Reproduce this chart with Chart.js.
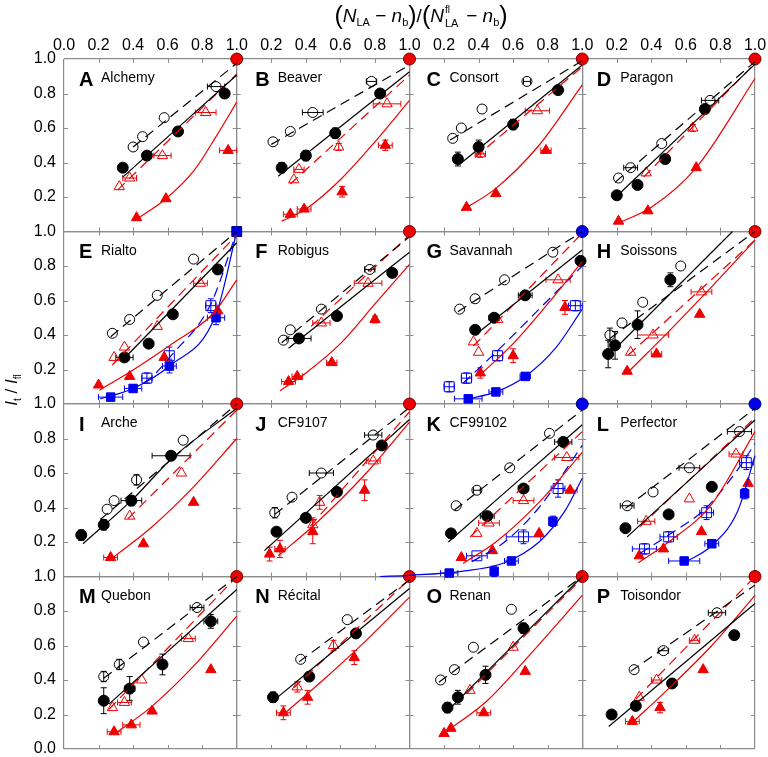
<!DOCTYPE html>
<html>
<head>
<meta charset="utf-8">
<script src="https://cdn.jsdelivr.net/npm/chart.js@4.4.1/dist/chart.umd.min.js"></script>
<style>
html, body { margin: 0; padding: 0; background: #fff; }
#wrap { position: relative; width: 768px; height: 757px; font-family: Arial, "Liberation Sans", sans-serif; color: #000; }
#chart { position: absolute; left: 0; top: 0; }
.letter { position: absolute; font-size: 20px; font-weight: bold; line-height: 1; white-space: nowrap; }
.name { position: absolute; font-size: 14px; line-height: 1; white-space: nowrap; }
#xtitle { position: absolute; left: 421px; top: 15px; transform: translate(-50%, -50%); font-size: 19px; white-space: nowrap; line-height: 1; }
#xtitle .p { font-size: 25px; font-weight: 300; vertical-align: -2px; }
#xtitle sub { font-size: 11px; vertical-align: -4px; }
#xtitle .ss { display: inline-block; position: relative; width: 17px; height: 14px; }
#xtitle .ss .a { position: absolute; left: 1px; top: -3px; font-size: 10px; }
#xtitle .ss .b { position: absolute; left: 1px; top: 10px; font-size: 11px; }
#ytitle { position: absolute; left: 13px; top: 390px; transform: translate(-50%, -50%) rotate(-90deg); font-size: 17px; white-space: nowrap; line-height: 1; }
#ytitle sub { font-size: 10px; }
</style>
</head>
<body>
<div id="wrap">
  <canvas id="chart" width="768" height="757"></canvas>
  <div id="xtitle"><span class="p">(</span><i>N</i><sub>LA</sub> − <i>n</i><sub>b</sub><span class="p">)</span>/<span class="p">(</span><i>N</i><span class="ss"><span class="a">fl</span><span class="b">LA</span></span> − <i>n</i><sub>b</sub><span class="p">)</span></div>
  <div id="ytitle"><i>I</i><sub>t</sub> / <i>I</i><sub>fl</sub></div>
</div>
<script>
// 面板与刻度
const panelLetters = ['A', 'B', 'C', 'D', 'E', 'F', 'G', 'H', 'I', 'J', 'K', 'L', 'M', 'N', 'O', 'P'];
const panelNames = ['Alchemy', 'Beaver', 'Consort', 'Paragon', 'Rialto', 'Robigus', 'Savannah', 'Soissons',
    'Arche', 'CF9107', 'CF99102', 'Perfector', 'Quebon', 'Récital', 'Renan', 'Toisondor'];
const topTickValues = [0, 0.2, 0.4, 0.6, 0.8, 1.0];
const leftTickValues = [0, 0.2, 0.4, 0.6, 0.8, 1.0];
const minorTicks = [0.2, 0.4, 0.6, 0.8];

// 数据点 [x, y, x误差, y误差]，按面板 A..P
const openCircles = [
    [[0.40, 0.49], [0.455, 0.55], [0.58, 0.66], [0.88, 0.84, 0.05]],
    [[0.21, 0.52], [0.31, 0.58], [0.44, 0.69, 0.06], [0.78, 0.87, 0.03]],
    [[0.25, 0.54], [0.30, 0.60], [0.42, 0.71], [0.68, 0.87, 0.02]],
    [[0.21, 0.31], [0.28, 0.37, 0.04], [0.46, 0.51], [0.74, 0.76, 0.05]],
    [[0.28, 0.41], [0.38, 0.49], [0.54, 0.63], [0.75, 0.84]],
    [[0.27, 0.37], [0.31, 0.43], [0.49, 0.55], [0.77, 0.78, 0.03]],
    [[0.29, 0.55], [0.38, 0.61], [0.55, 0.72], [0.83, 0.88]],
    [[0.16, 0.40, 0, 0.04], [0.23, 0.47], [0.35, 0.59], [0.57, 0.80]],
    [[0.25, 0.39], [0.29, 0.44], [0.42, 0.56, 0, 0.03], [0.69, 0.79]],
    [[0.22, 0.37, 0, 0.03], [0.32, 0.46], [0.49, 0.60, 0.07], [0.79, 0.82, 0.05]],
    [[0.27, 0.41], [0.39, 0.50, 0.02], [0.58, 0.63], [0.81, 0.83]],
    [[0.26, 0.41, 0.04], [0.41, 0.49], [0.62, 0.63, 0.06], [0.91, 0.84, 0.07]],
    [[0.23, 0.42, 0, 0.03], [0.32, 0.49, 0, 0.03], [0.46, 0.62], [0.77, 0.82, 0.04]],
    [[0.37, 0.52], [0.64, 0.75]],
    [[0.18, 0.40], [0.26, 0.46], [0.37, 0.59], [0.59, 0.81]],
    [[0.30, 0.46], [0.47, 0.57, 0.03], [0.78, 0.79, 0.05]]
];
const filledCircles = [
    [[0.34, 0.37], [0.48, 0.44], [0.66, 0.58], [0.93, 0.80]],
    [[0.26, 0.37, 0, 0.03], [0.40, 0.44, 0, 0.03], [0.57, 0.57, 0, 0.03], [0.83, 0.80]],
    [[0.28, 0.42, 0, 0.04], [0.40, 0.49, 0, 0.04], [0.60, 0.62, 0, 0.03], [0.86, 0.82]],
    [[0.20, 0.21], [0.32, 0.27], [0.48, 0.42], [0.71, 0.71]],
    [[0.35, 0.27, 0.05], [0.49, 0.35], [0.63, 0.52], [0.89, 0.78]],
    [[0.36, 0.38, 0.07], [0.58, 0.51], [0.90, 0.76]],
    [[0.38, 0.43], [0.49, 0.50, 0.03], [0.67, 0.63, 0.04], [0.99, 0.83]],
    [[0.15, 0.29, 0, 0.08], [0.19, 0.34, 0, 0.08], [0.32, 0.46, 0, 0.08], [0.51, 0.72, 0, 0.04]],
    [[0.10, 0.24, 0, 0.03], [0.23, 0.30, 0, 0.03], [0.39, 0.44, 0.06, 0.03], [0.62, 0.70, 0.11]],
    [[0.23, 0.26], [0.40, 0.34], [0.58, 0.49], [0.84, 0.76]],
    [[0.24, 0.25], [0.45, 0.35, 0.04], [0.66, 0.51, 0.03], [0.89, 0.78, 0.05]],
    [[0.25, 0.28], [0.50, 0.36], [0.75, 0.52]],
    [[0.23, 0.28, 0, 0.075], [0.38, 0.35, 0.03, 0.07], [0.57, 0.49, 0, 0.06], [0.85, 0.74, 0.04, 0.04]],
    [[0.21, 0.30, 0, 0.03], [0.42, 0.42], [0.69, 0.67]],
    [[0.22, 0.24, 0, 0.03], [0.28, 0.30, 0, 0.04], [0.44, 0.43, 0, 0.05], [0.66, 0.70, 0, 0.03]],
    [[0.17, 0.20], [0.31, 0.25], [0.52, 0.38], [0.88, 0.66]]
];
const openTriangles = [
    [[0.32, 0.26], [0.38, 0.31, 0.04], [0.57, 0.44, 0.05], [0.82, 0.69, 0.06]],
    [[0.33, 0.30], [0.36, 0.36, 0.03], [0.59, 0.49, 0, 0.02], [0.87, 0.74, 0.08]],
    [[0.41, 0.45, 0.03, 0.02], [0.74, 0.70, 0.07]],
    [[0.37, 0.34], [0.64, 0.60, 0, 0.02]],
    [[0.29, 0.27], [0.35, 0.33], [0.54, 0.45], [0.79, 0.70, 0.04]],
    [[0.49, 0.47, 0.05], [0.76, 0.70, 0.08]],
    [[0.37, 0.36], [0.40, 0.30], [0.51, 0.49], [0.86, 0.72, 0.07]],
    [[0.28, 0.30], [0.41, 0.40, 0.09], [0.69, 0.65, 0.06]],
    [[0.38, 0.35], [0.68, 0.60]],
    [[0.44, 0.30, 0, 0.04], [0.48, 0.43, 0, 0.04], [0.79, 0.67, 0.04]],
    [[0.39, 0.25], [0.46, 0.31, 0.06], [0.66, 0.44, 0.06], [0.91, 0.69, 0.07]],
    [[0.37, 0.32, 0.05], [0.62, 0.45], [0.89, 0.71, 0.04]],
    [[0.28, 0.24], [0.35, 0.27, 0.04], [0.45, 0.40], [0.72, 0.64, 0.04]],
    [[0.35, 0.36, 0, 0.03], [0.56, 0.60, 0, 0.03]],
    [[0.35, 0.34], [0.60, 0.59]],
    [[0.33, 0.30], [0.43, 0.40, 0.03], [0.65, 0.63, 0.03]]
];
const filledTriangles = [
    [[0.42, 0.08], [0.59, 0.19], [0.95, 0.47, 0.05]],
    [[0.31, 0.10, 0.04], [0.39, 0.13, 0.04], [0.61, 0.23, 0, 0.03], [0.86, 0.50, 0.04, 0.03]],
    [[0.33, 0.14], [0.50, 0.22], [0.79, 0.47, 0.03]],
    [[0.21, 0.06], [0.38, 0.12], [0.66, 0.37]],
    [[0.20, 0.11], [0.38, 0.16], [0.58, 0.27], [0.89, 0.54]],
    [[0.30, 0.13, 0.04], [0.35, 0.16, 0.03], [0.55, 0.24, 0.03], [0.80, 0.49, 0, 0.02]],
    [[0.41, 0.18, 0, 0.03], [0.60, 0.28, 0, 0.04], [0.90, 0.56, 0, 0.04]],
    [[0.26, 0.19], [0.43, 0.29, 0.03], [0.68, 0.52]],
    [[0.27, 0.11, 0.04], [0.46, 0.19], [0.75, 0.43]],
    [[0.19, 0.13, 0, 0.04], [0.25, 0.16, 0.03, 0.05], [0.44, 0.26, 0, 0.07], [0.74, 0.50, 0, 0.06]],
    [[0.30, 0.11], [0.48, 0.15], [0.75, 0.25], [0.93, 0.50, 0.04]],
    [[0.33, 0.12], [0.47, 0.16], [0.69, 0.26], [0.96, 0.54]],
    [[0.29, 0.10, 0.04], [0.39, 0.14, 0.05], [0.51, 0.22], [0.85, 0.46]],
    [[0.27, 0.21, 0.04, 0.04], [0.41, 0.30, 0, 0.04], [0.68, 0.53, 0, 0.04]],
    [[0.20, 0.09], [0.24, 0.12], [0.43, 0.21, 0.04], [0.67, 0.45]],
    [[0.29, 0.16, 0.04], [0.45, 0.24, 0, 0.03], [0.70, 0.46]]
];
const openSquares = [
    [], [], [], [],
    [[0.48, 0.15, 0.03, 0.03], [0.61, 0.28, 0, 0.05], [0.85, 0.57, 0.03, 0.04]],
    [],
    [[0.23, 0.10, 0.03, 0.03], [0.33, 0.15, 0.03, 0.03], [0.51, 0.28, 0.03, 0.03], [0.96, 0.57, 0.04, 0.03]],
    [], [], [],
    [[0.39, 0.12, 0.06], [0.66, 0.23, 0.10, 0.04], [0.86, 0.51, 0.04, 0.05]],
    [[0.36, 0.16, 0.07, 0.03], [0.50, 0.23, 0.05, 0.03], [0.72, 0.37, 0.04, 0.04], [0.95, 0.66, 0.04, 0.04]],
    [], [], [], []
];
const filledSquares = [
    [], [], [], [],
    [[0.27, 0.04, 0.07], [0.40, 0.09, 0.05, 0.02], [0.61, 0.22, 0.04, 0.04], [0.88, 0.50, 0.05, 0.04]],
    [],
    [[0.34, 0.03, 0.08], [0.50, 0.07, 0.04], [0.67, 0.16, 0.03, 0.02]],
    [], [], [],
    [[0.23, 0.02, 0.05], [0.49, 0.03, 0, 0.03], [0.59, 0.09, 0.04, 0.02], [0.83, 0.32, 0, 0.03]],
    [[0.59, 0.09, 0.09], [0.75, 0.19, 0.04], [0.94, 0.48, 0, 0.03]],
    [], [], [], []
];

// 拟合曲线 [x, y]
const dashedBlackFit = [
    [[0.40, 0.49], [1.0, 0.975]], [[0.20, 0.505], [1.0, 0.965]], [[0.235, 0.53], [1.0, 0.99]], [[0.19, 0.285], [1.0, 0.985]],
    [[0.27, 0.39], [1.0, 1.0]], [[0.26, 0.355], [1.0, 0.97]], [[0.28, 0.535], [1.0, 1.0]], [[0.16, 0.38], [1.0, 1.0]],
    [[0.21, 0.33], [1.0, 1.0]], [[0.22, 0.36], [1.0, 0.98]], [[0.26, 0.385], [1.0, 0.965]], [[0.25, 0.395], [1.0, 0.975]],
    [[0.23, 0.41], [1.0, 1.0]], [[0.36, 0.505], [1.0, 0.98]], [[0.17, 0.387], [1.0, 1.0]], [[0.28, 0.45], [1.0, 0.95]]
];
const solidBlackFit = [
    [[0.34, 0.315], [1.0, 0.907]], [[0.24, 0.32], [1.0, 0.926]], [[0.29, 0.39], [1.0, 0.965]], [[0.195, 0.20], [1.0, 0.97]],
    [[0.33, 0.245], [1.0, 0.935]], [[0.30, 0.323], [1.0, 0.88]], [[0.38, 0.40], [1.0, 0.893]], [[0.18, 0.31], [0.87, 1.0]],
    [[0.11, 0.19], [0.40, 0.45], [0.62, 0.68], [1.0, 0.975]], [[0.16, 0.15], [1.0, 0.91]], [[0.225, 0.20], [1.0, 0.88]], [[0.26, 0.23], [1.0, 0.907]],
    [[0.26, 0.26], [1.0, 0.925]], [[0.23, 0.295], [1.0, 0.93]], [[0.215, 0.216], [1.0, 1.0]], [[0.153, 0.13], [1.0, 0.843]]
];
const dashedRedFit = [
    [[0.31, 0.24], [1.0, 0.913]], [[0.31, 0.275], [1.0, 0.907]], [[0.38, 0.43], [1.0, 0.955]], [[0.355, 0.315], [1.0, 0.975]],
    [[0.28, 0.226], [1.0, 0.98]], [[0.43, 0.45], [1.0, 0.98]], [[0.37, 0.336], [1.0, 0.99]], [[0.267, 0.284], [1.0, 0.95]],
    [[0.37, 0.335], [1.0, 0.965]], [[0.425, 0.29], [1.0, 0.955]], [[0.35, 0.23], [1.0, 0.84]], [[0.335, 0.29], [1.0, 0.92]],
    [[0.26, 0.23], [1.0, 1.0]], [[0.33, 0.355], [1.0, 0.985]], [[0.33, 0.32], [1.0, 0.99]], [[0.31, 0.29], [1.0, 1.0]]
];
const solidRedFit = [
    [[0.42, 0.07], [0.59, 0.19], [0.75, 0.35], [0.88, 0.55], [1.0, 0.75]],
    [[0.26, 0.06], [0.40, 0.13], [0.60, 0.30], [0.80, 0.52], [1.0, 0.76]],
    [[0.30, 0.12], [0.50, 0.25], [0.75, 0.50], [1.0, 0.85]],
    [[0.21, 0.05], [0.40, 0.14], [0.66, 0.37], [1.0, 0.887]],
    [[0.205, 0.08], [0.40, 0.197], [0.63, 0.352], [0.865, 0.526], [1.0, 0.72]],
    [[0.25, 0.077], [0.40, 0.18], [0.60, 0.35], [0.80, 0.58], [1.0, 0.81]],
    [[0.41, 0.17], [0.60, 0.35], [0.80, 0.58], [1.0, 0.825]],
    [[0.26, 0.18], [0.50, 0.42], [0.75, 0.68], [1.0, 0.95]],
    [[0.27, 0.10], [0.50, 0.28], [0.75, 0.52], [1.0, 0.80]],
    [[0.24, 0.12], [0.45, 0.30], [0.75, 0.60], [1.0, 0.895]],
    [[0.31, 0.076], [0.50, 0.20], [0.75, 0.43], [1.0, 0.72]],
    [[0.325, 0.08], [0.50, 0.20], [0.75, 0.42], [1.0, 0.84]],
    [[0.295, 0.09], [0.50, 0.24], [0.75, 0.48], [1.0, 0.77]],
    [[0.27, 0.20], [0.50, 0.40], [0.75, 0.63], [1.0, 0.88]],
    [[0.225, 0.11], [0.45, 0.28], [0.70, 0.55], [1.0, 0.89]],
    [[0.286, 0.15], [0.50, 0.35], [0.75, 0.60], [1.0, 0.89]]
];
const dashedBlueFit = [
    [], [], [], [],
    [[0.38, 0.08], [0.50, 0.15], [0.62, 0.28], [0.85, 0.58], [1.0, 1.0]],
    [],
    [[0.31, 0.12], [0.50, 0.30], [0.80, 0.60], [1.0, 0.80]],
    [], [], [],
    [[0.36, 0.085], [0.55, 0.20], [0.75, 0.40], [1.0, 0.76]],
    [[0.335, 0.135], [0.50, 0.24], [0.72, 0.40], [0.90, 0.62], [1.0, 0.77]],
    [], [], [], []
];
const solidBlueFit = [
    [], [], [], [],
    [[0.21, 0.03], [0.40, 0.09], [0.61, 0.22], [0.88, 0.52], [1.0, 1.0]],
    [],
    [[0.34, 0.03], [0.50, 0.07], [0.67, 0.16], [0.85, 0.33], [1.0, 0.55]],
    [], [], [],
    [[-0.17, 0.0], [0.0, 0.007], [0.30, 0.03], [0.55, 0.08], [0.75, 0.20], [0.90, 0.38], [1.0, 0.57]],
    [[0.59, 0.08], [0.75, 0.18], [0.90, 0.38], [1.0, 0.70]],
    [], [], [], []
];
// 右上角 (1,1) 参考点
const cornerPoint = [1.0, 1.0];
const cornerKind = ['red', 'red', 'red', 'red', 'blueSquare', 'red', 'blue', 'red',
    'red', 'red', 'blue', 'blue', 'red', 'red', 'red', 'red'];

// 样式
const FONT = 'Arial, "Liberation Sans", sans-serif';
const BLACK = '#000000';
const RED = '#ee0000';
const BLUE = '#0000ee';
const GRAY = '#8c8c8c';
const DASH = [10, 6];

function toPoints(arr) {
    return arr.map(p => ({ x: p[0], y: p[1], xe: p[2] || 0, ye: p[3] || 0 }));
}

function fitDataset(points, color, dashed, xId, yId) {
    return {
        type: 'line',
        data: toPoints(points),
        xAxisID: xId, yAxisID: yId,
        borderColor: color,
        borderWidth: 1.2,
        borderDash: dashed ? DASH : [],
        pointRadius: 0,
        fill: false,
        cubicInterpolationMode: 'monotone',
        clip: false
    };
}

function markerDataset(points, style, color, filled, radius, xId, yId) {
    return {
        type: 'scatter',
        data: toPoints(points),
        xAxisID: xId, yAxisID: yId,
        pointStyle: style,
        pointRadius: radius,
        pointBorderWidth: 1,
        pointBorderColor: color,
        pointBackgroundColor: filled ? color : 'rgba(255,255,255,0)',
        borderColor: color,
        backgroundColor: filled ? color : 'rgba(255,255,255,0)',
        errorBars: true,
        errorColor: color,
        clip: false
    };
}

// 组装数据集
const datasets = [];
panelLetters.forEach((letter, p) => {
    const xId = 'x' + (p % 4);
    const yId = 'y' + Math.floor(p / 4);
    datasets.push(fitDataset(dashedBlackFit[p], BLACK, true, xId, yId));
    datasets.push(fitDataset(solidBlackFit[p], BLACK, false, xId, yId));
    datasets.push(fitDataset(dashedRedFit[p], RED, true, xId, yId));
    datasets.push(fitDataset(solidRedFit[p], RED, false, xId, yId));
    if (dashedBlueFit[p].length) datasets.push(fitDataset(dashedBlueFit[p], BLUE, true, xId, yId));
    if (solidBlueFit[p].length) datasets.push(fitDataset(solidBlueFit[p], BLUE, false, xId, yId));
    datasets.push(markerDataset(openCircles[p], 'circle', BLACK, false, 5, xId, yId));
    datasets.push(markerDataset(filledCircles[p], 'circle', BLACK, true, 5.5, xId, yId));
    datasets.push(markerDataset(openTriangles[p], 'triangle', RED, false, 6, xId, yId));
    datasets.push(markerDataset(filledTriangles[p], 'triangle', RED, true, 6, xId, yId));
    if (openSquares[p].length) datasets.push(markerDataset(openSquares[p], 'rect', BLUE, false, 7, xId, yId));
    if (filledSquares[p].length) datasets.push(markerDataset(filledSquares[p], 'rect', BLUE, true, 6, xId, yId));
    const kind = cornerKind[p];
    const cornerColor = kind === 'red' ? RED : BLUE;
    const corner = markerDataset([cornerPoint], kind === 'blueSquare' ? 'rect' : 'circle', cornerColor, true,
        kind === 'blueSquare' ? 7 : 6, xId, yId);
    corner.pointBorderColor = kind === 'red' ? '#7a0000' : '#00007a';
    datasets.push(corner);
});

// 坐标轴：4 个顶部 x 轴横向堆叠，4 个左侧 y 轴纵向堆叠
const gridColor = ctx => (ctx.tick && (ctx.tick.value === 0 || ctx.tick.value === 1)) ? GRAY : 'rgba(0,0,0,0)';
const scales = {};
for (let c = 0; c < 4; c++) {
    scales['x' + c] = {
        type: 'linear', position: 'top', stack: 'cols', stackWeight: 1, weight: 4 - c,
        min: 0, max: 1,
        afterBuildTicks: s => { s.ticks = topTickValues.map(v => ({ value: v })); },
        ticks: {
            autoSkip: false, maxRotation: 0, padding: 4, color: '#000',
            font: { size: 16, family: FONT },
            callback: v => (c > 0 && v === 0) ? '' : v.toFixed(1)
        },
        grid: { drawTicks: false, lineWidth: 1.2, color: gridColor },
        border: { display: false },
        afterFit: s => { s.height = 39; s.paddingLeft = 0; s.paddingRight = 0; }
    };
}
for (let r = 0; r < 4; r++) {
    scales['y' + r] = {
        type: 'linear', position: 'left', stack: 'rows', stackWeight: 1, weight: 4 - r,
        min: 0, max: 1,
        afterBuildTicks: s => { s.ticks = leftTickValues.map(v => ({ value: v })); },
        ticks: {
            autoSkip: false, padding: 8, color: '#000',
            font: { size: 16, family: FONT },
            callback: v => (r < 3 && v === 0) ? '' : v.toFixed(1)
        },
        grid: { drawTicks: false, lineWidth: 1.2, color: gridColor },
        border: { display: false },
        afterFit: s => { s.width = 64; s.paddingTop = 0; s.paddingBottom = 0; }
    };
}

// 面板内侧小刻度
const panelTicksPlugin = {
    id: 'panelTicks',
    beforeDatasetsDraw(chart) {
        const ctx = chart.ctx;
        ctx.save();
        ctx.strokeStyle = GRAY;
        ctx.lineWidth = 1;
        ctx.beginPath();
        for (let c = 0; c < 4; c++) {
            for (let r = 0; r < 4; r++) {
                const xs = chart.scales['x' + c];
                const ys = chart.scales['y' + r];
                minorTicks.forEach(v => {
                    const px = Math.round(xs.getPixelForValue(v)) + 0.5;
                    const py = Math.round(ys.getPixelForValue(v)) + 0.5;
                    ctx.moveTo(px, ys.top); ctx.lineTo(px, ys.top + 4);
                    ctx.moveTo(px, ys.bottom); ctx.lineTo(px, ys.bottom - 4);
                    ctx.moveTo(xs.left, py); ctx.lineTo(xs.left + 4, py);
                    ctx.moveTo(xs.right, py); ctx.lineTo(xs.right - 4, py);
                });
            }
        }
        ctx.stroke();
        ctx.restore();
    }
};

// 误差棒
const errorBarsPlugin = {
    id: 'errorBars',
    beforeDatasetsDraw(chart) {
        const ctx = chart.ctx;
        ctx.save();
        ctx.lineWidth = 1;
        chart.data.datasets.forEach((ds, i) => {
            if (!ds.errorBars) return;
            const meta = chart.getDatasetMeta(i);
            const xs = chart.scales[meta.xAxisID];
            const ys = chart.scales[meta.yAxisID];
            ctx.strokeStyle = ds.errorColor;
            ctx.beginPath();
            ds.data.forEach(p => {
                const px = xs.getPixelForValue(p.x);
                const py = ys.getPixelForValue(p.y);
                if (p.xe) {
                    const a = xs.getPixelForValue(p.x - p.xe);
                    const b = xs.getPixelForValue(p.x + p.xe);
                    ctx.moveTo(a, py); ctx.lineTo(b, py);
                    ctx.moveTo(a, py - 3); ctx.lineTo(a, py + 3);
                    ctx.moveTo(b, py - 3); ctx.lineTo(b, py + 3);
                }
                if (p.ye) {
                    const a = ys.getPixelForValue(p.y - p.ye);
                    const b = ys.getPixelForValue(p.y + p.ye);
                    ctx.moveTo(px, a); ctx.lineTo(px, b);
                    ctx.moveTo(px - 3, a); ctx.lineTo(px + 3, a);
                    ctx.moveTo(px - 3, b); ctx.lineTo(px + 3, b);
                }
            });
            ctx.stroke();
        });
        ctx.restore();
    }
};

const chart = new Chart(document.getElementById('chart'), {
    type: 'scatter',
    data: { datasets: datasets },
    options: {
        responsive: false,
        animation: false,
        devicePixelRatio: 1,
        layout: { padding: { top: 20, right: 13, bottom: 8, left: 0 } },
        plugins: { legend: { display: false }, tooltip: { enabled: false } },
        events: [],
        scales: scales
    },
    plugins: [panelTicksPlugin, errorBarsPlugin]
});

// 面板标签
const letterOffset = [15, 18.5, 17, 14.5];
const nameOffset = [37, 41, 40, 38];
const wrap = document.getElementById('wrap');
panelLetters.forEach((letter, p) => {
    const c = p % 4, r = Math.floor(p / 4);
    const xs = chart.scales['x' + c];
    const ys = chart.scales['y' + r];
    const l = document.createElement('div');
    l.className = 'letter';
    l.textContent = letter;
    l.style.left = (xs.left + letterOffset[c]) + 'px';
    l.style.top = (ys.top + 9.5) + 'px';
    wrap.appendChild(l);
    const n = document.createElement('div');
    n.className = 'name';
    n.textContent = panelNames[p];
    n.style.left = (xs.left + nameOffset[c]) + 'px';
    n.style.top = (ys.top + 11) + 'px';
    wrap.appendChild(n);
});
</script>
</body>
</html>
